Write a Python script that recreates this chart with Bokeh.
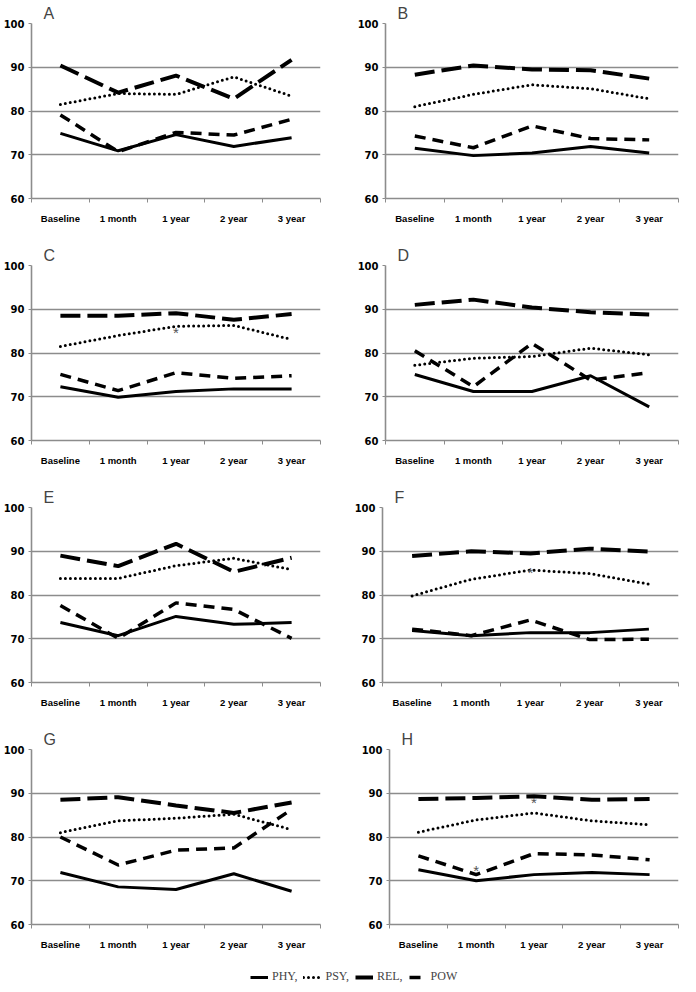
from bokeh.plotting import figure
from bokeh.layouts import column, row
from bokeh.models import FixedTicker, Range1d, Legend, LegendItem, ColumnDataSource
from bokeh.embed import file_html
from bokeh.resources import INLINE
from bokeh.core.properties import value

categories = ["Baseline", "1 month", "1 year", "2 year", "3 year"]
y_ticks = [60, 70, 80, 90, 100]
series_labels = ["PHY,", "PSY,", "REL,", "POW"]

phy_A = [74.9, 70.9, 74.6, 71.9, 73.9]
psy_A = [81.5, 84.0, 83.8, 87.8, 83.4]
rel_A = [90.4, 84.2, 88.1, 82.8, 91.7]
pow_A = [79.1, 70.7, 75.1, 74.5, 78.1]

phy_B = [71.5, 69.8, 70.4, 71.9, 70.4]
psy_B = [81.0, 83.8, 86.0, 85.1, 82.8]
rel_B = [88.3, 90.4, 89.5, 89.3, 87.4]
pow_B = [74.3, 71.6, 76.6, 73.7, 73.4]

phy_C = [72.3, 69.9, 71.2, 71.8, 71.8]
psy_C = [81.5, 84.0, 86.1, 86.3, 83.1]
rel_C = [88.5, 88.5, 89.1, 87.6, 88.9]
pow_C = [75.1, 71.4, 75.5, 74.2, 74.8]

phy_D = [75.1, 71.2, 71.2, 74.8, 67.7]
psy_D = [77.2, 78.8, 79.2, 81.1, 79.6]
rel_D = [91.0, 92.2, 90.4, 89.3, 88.8]
pow_D = [80.5, 72.3, 82.2, 73.8, 75.5]

phy_E = [73.7, 70.7, 75.1, 73.3, 73.7]
psy_E = [83.8, 83.8, 86.7, 88.4, 85.8]
rel_E = [89.0, 86.6, 91.7, 85.3, 88.5]
pow_E = [77.6, 70.1, 78.2, 76.7, 70.1]

phy_F = [71.9, 70.7, 71.4, 71.4, 72.2]
psy_F = [79.8, 83.6, 85.7, 84.9, 82.5]
rel_F = [88.9, 90.0, 89.5, 90.6, 89.9]
pow_F = [72.2, 70.7, 74.3, 69.8, 69.9]

phy_G = [71.9, 68.6, 68.0, 71.6, 67.6]
psy_G = [81.0, 83.7, 84.3, 85.2, 81.7]
rel_G = [88.5, 89.1, 87.2, 85.5, 87.9]
pow_G = [80.0, 73.6, 77.0, 77.5, 86.3]

phy_H = [72.5, 70.0, 71.4, 71.9, 71.4]
psy_H = [81.1, 83.9, 85.5, 83.7, 82.8]
rel_H = [88.7, 88.9, 89.3, 88.5, 88.7]
pow_H = [75.7, 71.4, 76.2, 75.9, 74.8]

star_panel = ["C", "F", "H", "H"]
star_cat = ["1 year", "1 year", "1 year", "1 month"]
star_y = [84.6, 85.1, 87.8, 72.4]

panels = {
    "A": (phy_A, psy_A, rel_A, pow_A),
    "B": (phy_B, psy_B, rel_B, pow_B),
    "C": (phy_C, psy_C, rel_C, pow_C),
    "D": (phy_D, psy_D, rel_D, pow_D),
    "E": (phy_E, psy_E, rel_E, pow_E),
    "F": (phy_F, psy_F, rel_F, pow_F),
    "G": (phy_G, psy_G, rel_G, pow_G),
    "H": (phy_H, psy_H, rel_H, pow_H),
}

STYLES = [
    dict(line_color="black", line_width=3),
    dict(line_color="black", line_width=3, line_dash="0 5", line_cap="round"),
    dict(line_color="black", line_width=4, line_dash="20 7"),
    dict(line_color="black", line_width=3.5, line_dash="11 7"),
]
GRID = "#8c8c8c"
xpos = list(range(len(categories)))


def make_panel(letter, width, height, bl, br, bt, bb):
    p = figure(width=width, height=height,
               x_range=Range1d(-0.5, len(categories) - 0.5), y_range=Range1d(60, 100),
               output_backend="svg", toolbar_location=None,
               min_border_left=bl, min_border_right=br, min_border_top=bt, min_border_bottom=bb,
               outline_line_color=None, background_fill_color="white", border_fill_color="white")
    p.title.text = letter
    p.title.text_font = "Liberation Sans"
    p.title.text_font_size = "16px"
    p.title.text_font_style = "normal"
    p.title.offset = 12
    p.title.standoff = 4

    p.xgrid.visible = False
    p.ygrid.ticker = FixedTicker(ticks=y_ticks)
    p.ygrid.grid_line_color = GRID
    p.ygrid.grid_line_width = 1.6

    p.yaxis.ticker = FixedTicker(ticks=y_ticks)
    p.yaxis.axis_line_color = GRID
    p.yaxis.axis_line_width = 1.6
    p.yaxis.major_tick_line_color = GRID
    p.yaxis.major_tick_out = 3
    p.yaxis.major_tick_in = 0
    p.yaxis.minor_tick_line_color = None
    p.yaxis.major_label_standoff = 4
    p.yaxis.major_label_text_font = "DejaVu Sans"
    p.yaxis.major_label_text_font_style = "bold"
    p.yaxis.major_label_text_font_size = "10px"
    p.yaxis.major_label_text_color = "black"

    p.xaxis.ticker = FixedTicker(ticks=xpos, minor_ticks=[i - 0.5 for i in range(len(categories) + 1)])
    p.xaxis.major_label_overrides = {i: c for i, c in zip(xpos, categories)}
    p.xaxis.axis_line_color = GRID
    p.xaxis.axis_line_width = 1.6
    p.xaxis.major_tick_line_color = None
    p.xaxis.minor_tick_line_color = GRID
    p.xaxis.minor_tick_out = 4
    p.xaxis.minor_tick_in = 0
    p.xaxis.major_label_standoff = 8
    p.xaxis.major_label_text_font = "Liberation Sans"
    p.xaxis.major_label_text_font_style = "bold"
    p.xaxis.major_label_text_font_size = "9.5px"
    p.xaxis.major_label_text_color = "black"

    for vals, st in zip(panels[letter], STYLES):
        src = ColumnDataSource(dict(x=xpos, y=vals))
        p.line("x", "y", source=src, **st)

    sx = [categories.index(c) for pn, c in zip(star_panel, star_cat) if pn == letter]
    sy = [y for pn, y in zip(star_panel, star_y) if pn == letter]
    if sx:
        p.text(x=sx, y=sy, text=["*"] * len(sx), text_align="center", text_baseline="middle",
               text_color="#555555", text_font_size="15px", text_font=value("Liberation Sans"))
    return p


LW, RW = 338, 342
rows_spec = [("A", "B", 242, 44), ("C", "D", 242, 44), ("E", "F", 242, 44), ("G", "H", 238, 40)]
right_bl = {"B": 47, "D": 47, "F": 44, "H": 51}
rws = []
for l, r, h, bb in rows_spec:
    pl = make_panel(l, LW, h, 25, 18, 19, bb)
    pr = make_panel(r, RW, h, right_bl[r], 2, 19, bb)
    rws.append(row(pl, pr))

# legend strip: sample lines are clipped away (data lies outside this strip's y range)
lp = figure(width=680, height=20, x_range=Range1d(0, 1), y_range=Range1d(0, 1),
            output_backend="svg", toolbar_location=None, min_border=0,
            outline_line_color=None, x_axis_location=None, y_axis_location=None)
lp.xgrid.visible = False
lp.ygrid.visible = False
items = []
for lab, vals, st in zip(series_labels, panels["A"], STYLES):
    rr = lp.line(x=xpos, y=vals, **st)
    items.append(LegendItem(label=lab, renderers=[rr]))
leg = Legend(items=items, orientation="horizontal", location=(250, 0),
             border_line_color=None, background_fill_alpha=0,
             label_text_font="Liberation Serif", label_text_font_size="12px",
             glyph_width=18, glyph_height=10, label_standoff=4, spacing=6,
             padding=0, margin=0, label_height=12)
lp.add_layout(leg)

layout = column(*rws, lp)
open("out.html", "w").write(file_html(layout, INLINE))
